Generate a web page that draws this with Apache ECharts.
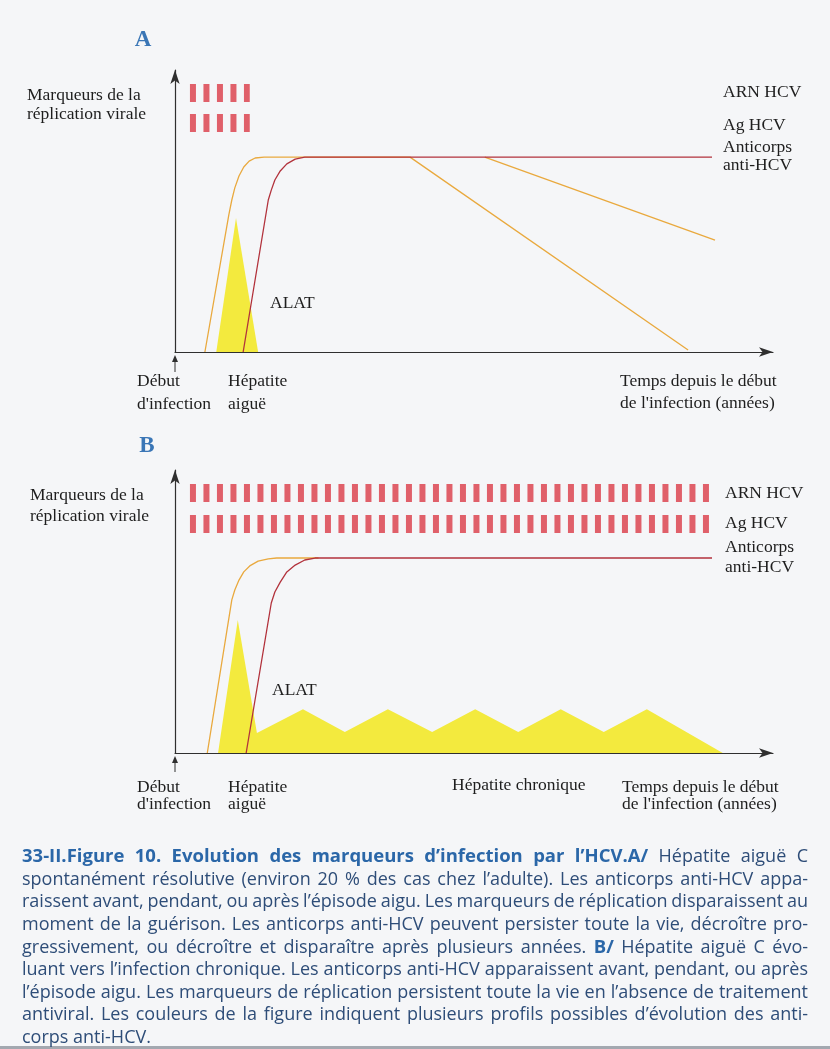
<!DOCTYPE html>
<html>
<head>
<meta charset="utf-8">
<script src="https://cdn.jsdelivr.net/npm/echarts@6/dist/echarts.min.js"></script>
<style>
  html, body { margin: 0; padding: 0; background: #f5f6f8; }
  #chart { width: 830px; height: 1049px; }
</style>
</head>
<body>
<div id="chart"></div>
<script>
// ---- DATA (time units 0..100, level units 0..100) ----
// Panel A : hépatite aiguë résolutive
const arnA = [[2.5, 91.8], [12.5, 91.8]];
const agA  = [[2.5, 81.2], [12.5, 81.2]];
const antiEarlyA = [[5.0,0],[9.0,48.6],[9.5,53.9],[10.0,58.2],[10.7,62.4],[11.5,65.6],[12.4,67.7],[13.4,68.8],[14.9,69.1],[39.3,69.1],[85.8,0.7]];
const antiDecayA = [[51.8,69.1],[90.3,39.7]];
const antiLateA  = [[11.4,0],[15.6,53.9],[16.1,57.4],[16.7,61.0],[17.6,64.2],[18.7,66.7],[20.1,68.4],[21.7,69.1],[89.8,69.1]];
const alatA = [[6.9,0],[10.2,47.5],[13.9,0]];

// Panel B : évolution vers la chronicité
const arnB = [[2.5, 91.9], [89.3, 91.9]];
const agB  = [[2.5, 80.9], [89.3, 80.9]];
const antiEarlyB = [[5.4,0],[9.5,54.1],[10.0,57.6],[10.7,61.1],[11.5,64.0],[12.5,66.1],[13.9,67.8],[15.6,68.6],[17.0,68.9],[24.0,68.9]];
const antiLateB  = [[11.9,0],[16.1,53.0],[16.7,56.9],[17.6,60.4],[18.7,64.0],[20.1,66.4],[21.7,68.2],[23.4,68.9],[89.8,68.9]];
const alatB = [[7.2,0],[10.5,47.0],[13.7,7.1],[21.4,15.5],[28.4,7.4],[35.6,15.5],[43.0,7.4],[50.2,15.5],[57.4,7.4],[64.5,15.5],[71.7,7.4],[78.9,15.5],[91.6,0]];

// caption: segments [text, bold]
const captionLines = [
  [['33-II.Figure 10. Evolution des marqueurs d’infection par l’HCV.A/', true], [' Hépatite aiguë C', false]],
  [['spontanément résolutive (environ 20 % des cas chez l’adulte). Les anticorps anti-HCV appa-', false]],
  [['raissent avant, pendant, ou après l’épisode aigu. Les marqueurs de réplication disparaissent au', false]],
  [['moment de la guérison. Les anticorps anti-HCV peuvent persister toute la vie, décroître pro-', false]],
  [['gressivement, ou décroître et disparaître après plusieurs années.', false], [' B/', true], [' Hépatite aiguë C évo-', false]],
  [['luant vers l’infection chronique. Les anticorps anti-HCV apparaissent avant, pendant, ou après', false]],
  [['l’épisode aigu. Les marqueurs de réplication persistent toute la vie en l’absence de traitement', false]],
  [['antiviral. Les couleurs de la figure indiquent plusieurs profils possibles d’évolution des anti-', false]],
  [['corps anti-HCV.', false]]
];

// ---- STYLE ----
const SERIF = '"Liberation Serif", "DejaVu Serif", serif';
const LBL_FONT = '17.5px ' + SERIF;
const AXIS = '#2f2f2f';
const ORANGE = '#e9a93e';
const DARKRED = '#b2323c';
const PINK = '#e0606a';
const YELLOW = '#f3ea3e';
const CAP_REG = '18px "Open Sans", Lato, sans-serif';
const CAP_BOLD = 'bold 18.5px "Open Sans", Lato, sans-serif';
const CAP_FILL = '#2e4d78';
const CAP_BOLD_FILL = '#2b67a8';

const chart = echarts.init(document.getElementById('chart'), null, { renderer: 'canvas' });

function axisX(gi) {
  return { type: 'value', gridIndex: gi, min: 0, max: 100,
    axisLine: { show: true, onZero: false, symbol: ['none', 'arrow'], symbolSize: [7, 14],
      lineStyle: { color: AXIS, width: 1.2 } },
    axisTick: { show: false }, axisLabel: { show: false }, splitLine: { show: false } };
}
function axisY(gi) {
  return { type: 'value', gridIndex: gi, min: 0, max: 100,
    axisLine: { show: true, onZero: false, symbol: ['none', 'arrow'], symbolSize: [7, 14],
      lineStyle: { color: AXIS, width: 1.2 } },
    axisTick: { show: false }, axisLabel: { show: false }, splitLine: { show: false } };
}
function area(data, gi, name) {
  return { type: 'line', name, xAxisIndex: gi, yAxisIndex: gi, data, symbol: 'none',
    lineStyle: { width: 0 }, areaStyle: { color: YELLOW, opacity: 1 }, z: 1, silent: true };
}
function curve(data, gi, color, name, z) {
  return { type: 'line', name, xAxisIndex: gi, yAxisIndex: gi, data, symbol: 'none',
    lineStyle: { width: 1.3, color }, z: z || 3, silent: true };
}
function dashes(data, gi, name) {
  return { type: 'line', name, xAxisIndex: gi, yAxisIndex: gi, data, symbol: 'none',
    lineStyle: { width: 18, color: PINK, type: [6, 7.5], cap: 'butt' }, z: 2, silent: true };
}

function txt(x, y, text, opts) {
  opts = opts || {};
  return { type: 'text', x, y, silent: true, style: {
    text, font: opts.font || LBL_FONT, fill: opts.fill || '#1e1e1e',
    align: opts.align || 'left', verticalAlign: 'middle',
    textAlign: opts.align || 'left', textVerticalAlign: 'middle' } };
}
function smallArrow(x, y1, y2) {
  return [
    { type: 'line', silent: true, shape: { x1: x, y1: y1, x2: x, y2: y2 + 5 }, style: { stroke: AXIS, lineWidth: 1 } },
    { type: 'polygon', silent: true, shape: { points: [[x, y2], [x - 3, y2 + 7], [x + 3, y2 + 7]] }, style: { fill: AXIS } }
  ];
}

const LABEL_BLUE = '#3a76b6';
const graphics = [
  // Panel A
  txt(143, 40, 'A', { font: 'bold 23px ' + SERIF, fill: LABEL_BLUE, align: 'center' }),
  txt(27, 95, 'Marqueurs de la'),
  txt(27, 114, 'réplication virale'),
  txt(723, 92, 'ARN HCV'),
  txt(723, 125, 'Ag HCV'),
  txt(723, 147, 'Anticorps'),
  txt(723, 165, 'anti-HCV'),
  txt(270, 303, 'ALAT'),
  txt(137, 381, 'Début'),
  txt(137, 404, 'd\'infection'),
  txt(228, 381, 'Hépatite'),
  txt(228, 404, 'aiguë'),
  txt(620, 381, 'Temps depuis le début'),
  txt(620, 403, 'de l\'infection (années)'),
  ...smallArrow(175, 372, 355),
  // Panel B
  txt(147, 446, 'B', { font: 'bold 23px ' + SERIF, fill: LABEL_BLUE, align: 'center' }),
  txt(30, 495, 'Marqueurs de la'),
  txt(30, 516, 'réplication virale'),
  txt(725, 493, 'ARN HCV'),
  txt(725, 523, 'Ag HCV'),
  txt(725, 547, 'Anticorps'),
  txt(725, 567, 'anti-HCV'),
  txt(272, 690, 'ALAT'),
  txt(137, 787, 'Début'),
  txt(137, 804, 'd\'infection'),
  txt(228, 787, 'Hépatite'),
  txt(228, 804, 'aiguë'),
  txt(452, 785, 'Hépatite chronique'),
  txt(622, 787, 'Temps depuis le début'),
  txt(622, 804, 'de l\'infection (années)'),
  ...smallArrow(175, 772, 756),
  // bottom rule
  { type: 'rect', silent: true, shape: { x: 0, y: 1046, width: 830, height: 3 }, style: { fill: '#a3a8b0' } }
];

// justified caption layout (word placement measured with canvas)
const mctx = document.createElement('canvas').getContext('2d');
function measure(s, font) { mctx.font = font; return mctx.measureText(s).width; }
const CAP_LEFT = 22, CAP_RIGHT = 808, CAP_TOP = 857, CAP_LH = 22.6;
captionLines.forEach((segs, li) => {
  const words = [];
  segs.forEach(([t, bold]) => {
    t.split(' ').forEach((w) => {
      if (w === '') return;
      words.push({ w, bold });
    });
  });
  const last = li === captionLines.length - 1;
  const widths = words.map(o => measure(o.w, o.bold ? CAP_BOLD : CAP_REG));
  const total = widths.reduce((a, b) => a + b, 0);
  const spaceW = measure(' ', CAP_REG);
  const gap = last ? spaceW : (CAP_RIGHT - CAP_LEFT - total) / (words.length - 1);
  let x = CAP_LEFT;
  const y = CAP_TOP + li * CAP_LH;
  words.forEach((o, i) => {
    graphics.push(txt(x, y, o.w, { font: o.bold ? CAP_BOLD : CAP_REG, fill: o.bold ? CAP_BOLD_FILL : CAP_FILL }));
    x += widths[i] + gap;
  });
});

chart.setOption({
  backgroundColor: '#f5f6f8',
  animation: false,
  grid: [
    { left: 175, top: 70, width: 598, height: 282 },
    { left: 175, top: 470, width: 598, height: 283 }
  ],
  xAxis: [axisX(0), axisX(1)],
  yAxis: [axisY(0), axisY(1)],
  series: [
    area(alatA, 0, 'ALAT A'),
    dashes(arnA, 0, 'ARN HCV A'),
    dashes(agA, 0, 'Ag HCV A'),
    curve(antiEarlyA, 0, ORANGE, 'Anticorps précoces A', 3),
    curve(antiDecayA, 0, ORANGE, 'Anticorps décroissants A', 3),
    curve(antiLateA, 0, DARKRED, 'Anticorps tardifs A', 4),
    area(alatB, 1, 'ALAT B'),
    dashes(arnB, 1, 'ARN HCV B'),
    dashes(agB, 1, 'Ag HCV B'),
    curve(antiEarlyB, 1, ORANGE, 'Anticorps précoces B', 3),
    curve(antiLateB, 1, DARKRED, 'Anticorps tardifs B', 4)
  ],
  graphic: graphics
});
</script>
</body>
</html>
